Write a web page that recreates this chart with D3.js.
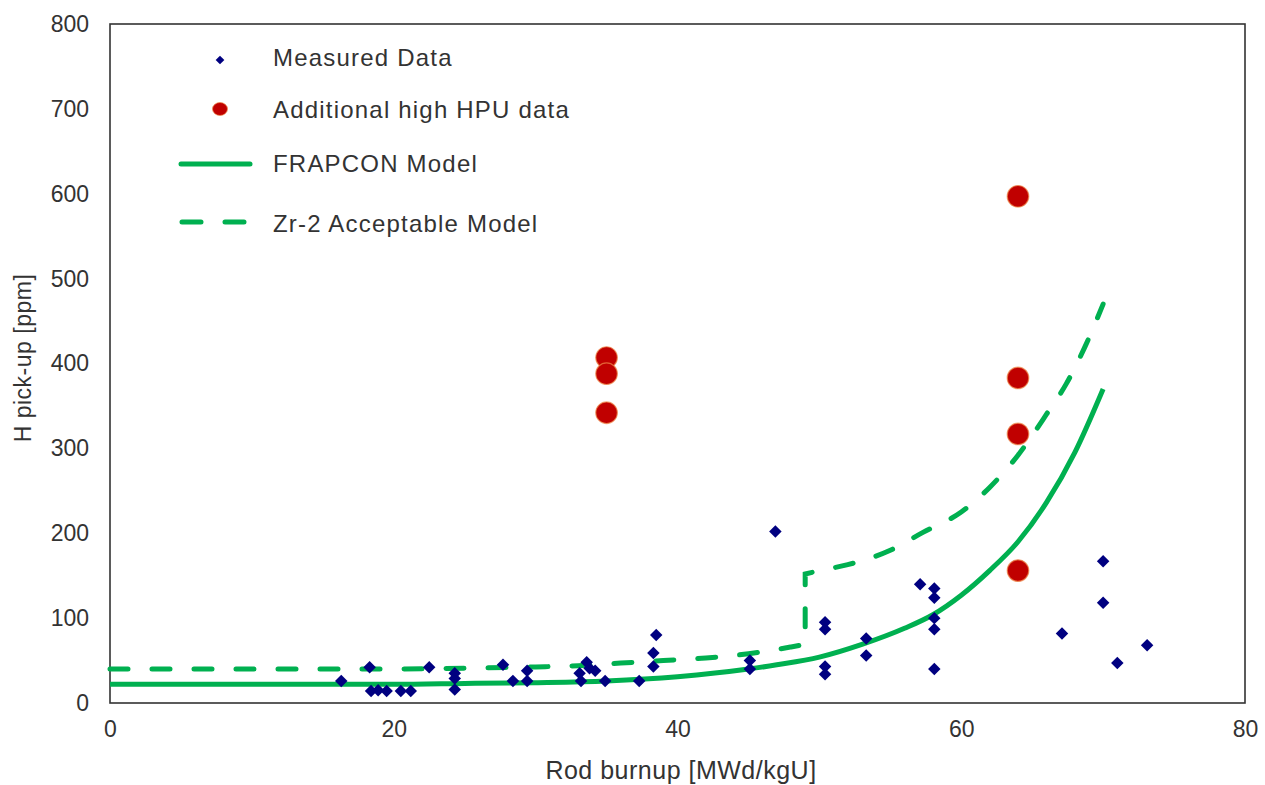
<!DOCTYPE html>
<html><head><meta charset="utf-8">
<script src="https://cdn.jsdelivr.net/npm/d3@7"></script>
<style>body{margin:0;background:#fff}svg{display:block}text{font-family:"Liberation Sans",Arial,sans-serif;fill:#333}</style>
</head><body><svg id="c" width="1265" height="785"></svg>
<script>
// ---- data ----
const measuredX = [16.3,18.3,18.4,18.9,19.5,20.5,21.2,22.5,24.3,24.3,24.3,27.7,28.4,29.4,29.4,33.1,33.2,33.6,33.8,34.2,34.9,37.3,38.5,38.3,38.3,45.1,45.1,46.9,50.4,50.4,50.4,50.4,53.3,53.3,57.1,58.1,58.1,58.1,58.1,58.1,67.1,70.0,70.0,71.0,73.1];
const measuredY = [26,42,14,15,14,14,14,42,35,29,16,45,26,38,26,35,26,48,41,38,26,26,80,59,43,50,40,202,95,87,43,34,76,56,140,135,124,100,87,40,82,167,118,47,68];
const highX = [35,35,35,64,64,64,64];
const highY = [407,388,342,597,383,317,156];
const frapconX = [0,10,20,25,30,35,40,45,47,50,53,56,58,60,62,64,66,68,70];
const frapconY = [22,22,22,23,24,26,31,40,45,54,69,88,104,127,156,190,236,295,370];
const zr2LowX = [0,20,25,30,33,36,39,42,45,48,49];
const zr2LowY = [40,40,41,42.5,44,47,50,53,58,66,69];
const zr2HighX = [49,50,52,55,57.3,60,62,64,66,67.4,68.7,70];
const zr2HighY = [152,156,163,180,201,225,254,292,340,376,419,470];
const xTicks = [0,20,40,60,80];
const yTicks = [0,100,200,300,400,500,600,700,800];
const legendLabels = ["Measured Data","Additional high HPU data","FRAPCON Model","Zr-2 Acceptable Model"];
const xTitle = "Rod burnup [MWd/kgU]";
const yTitle = "H pick-up [ppm]";

// ---- layout ----
const L=110,R=1245,T=24,B=703;
const svg=d3.select("#c");
const x=d3.scaleLinear().domain([0,80]).range([L,R]);
const y=d3.scaleLinear().domain([0,800]).range([B,T]);
const green="#00b050";

// frame
svg.append("rect").attr("x",L).attr("y",T).attr("width",R-L).attr("height",B-T)
  .attr("fill","none").attr("stroke","#333").attr("stroke-width",1.6);

// axes (labels only)
const xa=svg.append("g").attr("transform",`translate(0,${B})`)
  .call(d3.axisBottom(x).tickValues(xTicks).tickSize(0).tickPadding(18).tickFormat(d3.format("d")));
const ya=svg.append("g").attr("transform",`translate(${L},0)`)
  .call(d3.axisLeft(y).tickValues(yTicks).tickSize(0).tickPadding(21).tickFormat(d3.format("d")));
[xa,ya].forEach(a=>{a.select(".domain").remove();a.selectAll("text").attr("font-size",23).style("font-family",'"Liberation Sans",Arial,sans-serif').attr("fill","#333");});

// titles
svg.append("text").attr("x",681).attr("y",779).attr("text-anchor","middle").attr("font-size",25).attr("letter-spacing",0.5).text(xTitle);
svg.append("text").attr("transform","translate(31,358) rotate(-90)").attr("text-anchor","middle").attr("font-size",23).attr("letter-spacing",0.5).text(yTitle);

// lines
const line=d3.line().x(d=>x(d[0])).y(d=>y(d[1])).curve(d3.curveMonotoneX);
const frap=frapconX.map((v,i)=>[v,frapconY[i]]);
svg.append("path").attr("d",line(frap)).attr("fill","none").attr("stroke",green).attr("stroke-width",5);
const low=zr2LowX.map((v,i)=>[v,zr2LowY[i]]);
const high=zr2HighX.map((v,i)=>[v,zr2HighY[i]]);
const dz=line(low)+line(high).replace(/^M/,"L");
svg.append("path").attr("d",dz).attr("fill","none").attr("stroke",green).attr("stroke-width",5)
  .attr("stroke-dasharray","18,24").attr("stroke-linecap","round");

// measured diamonds (rotated squares)
const diamond=d3.symbol().type(d3.symbolSquare).size(78);
svg.append("g").selectAll("path").data(measuredX.map((v,i)=>[v,measuredY[i]])).join("path")
  .attr("d",diamond).attr("transform",d=>`translate(${x(d[0])},${y(d[1])}) rotate(45)`).attr("fill","#000080");

// high HPU circles
svg.append("g").selectAll("circle").data(highX.map((v,i)=>[v,highY[i]])).join("circle")
  .attr("cx",d=>x(d[0])).attr("cy",d=>y(d[1])).attr("r",10.8)
  .attr("fill","#c00000").attr("stroke","#f08a4b").attr("stroke-width",1.2).attr("stroke-opacity",0.7);

// legend
const lg=svg.append("g");
const ly=[58,110,164,224];
lg.append("path").attr("d",d3.symbol().type(d3.symbolSquare).size(38)).attr("transform",`translate(220,${ly[0]+2}) rotate(45)`).attr("fill","#000080");
lg.append("ellipse").attr("cx",220).attr("cy",ly[1]-1).attr("rx",7.5).attr("ry",6.5).attr("fill","#c00000").attr("stroke","#f08a4b").attr("stroke-width",1).attr("stroke-opacity",0.7);
lg.append("line").attr("x1",181).attr("x2",250).attr("y1",ly[2]).attr("y2",ly[2]).attr("stroke",green).attr("stroke-width",5).attr("stroke-linecap","round");
lg.append("line").attr("x1",182).attr("x2",250).attr("y1",ly[3]-2).attr("y2",ly[3]-2).attr("stroke",green).attr("stroke-width",5).attr("stroke-linecap","round").attr("stroke-dasharray","19,24");
legendLabels.forEach((t,i)=>{
  lg.append("text").attr("x",273).attr("y",ly[i]).attr("dy","0.35em").attr("font-size",24).attr("letter-spacing",1.2).attr("fill","#262626").text(t);
});
</script></body></html>
